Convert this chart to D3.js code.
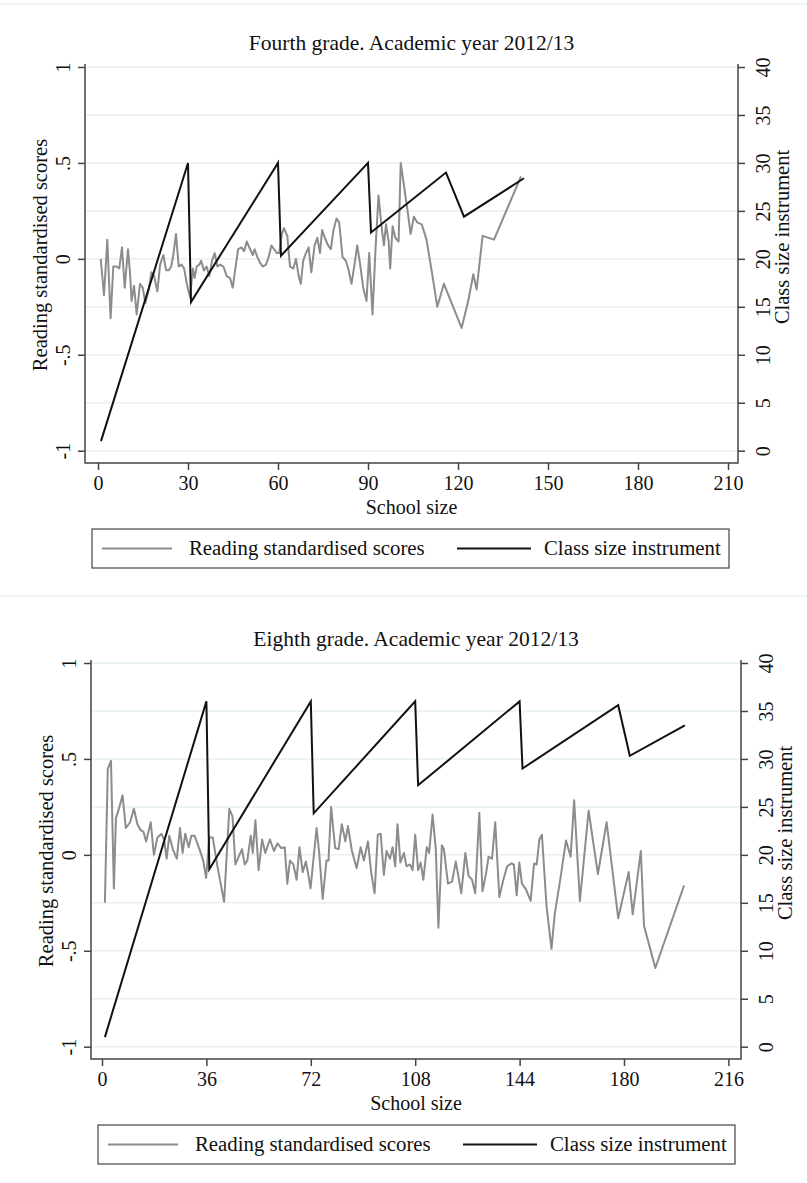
<!DOCTYPE html>
<html>
<head>
<meta charset="utf-8">
<script src="https://cdn.jsdelivr.net/npm/d3@7"></script>
<style>
  body { margin: 0; background: #fff; }
  svg, text { font-family: "Liberation Serif", "Times New Roman", Times, serif; fill: #111; }
</style>
</head>
<body>
<svg id="chart"></svg>
<script>
// fourth grade (2012/13)
const size4 = [0.9,2,3.1,4.2,5.1,6.2,7.1,8,8.9,10,10.7,11.2,12,12.9,14,14.9,15.8,16.9,17.8,18.7,19.8,20.7,21.8,22.7,23.6,24.4,25.1,26,26.9,27.8,28.7,29.6,30.7,31.6,32.2,32.9,33.8,34.4,35.3,36.2,37.1,38,38.9,39.8,40.7,41.8,42.9,44,44.9,45.8,46.7,47.8,48.7,49.6,50.7,51.6,52.2,53.1,54,54.9,56,56.9,57.8,58.7,59.6,60.4,61.3,62,63.1,64,65.1,66,66.9,67.6,68.4,69.3,70.2,71.1,72.2,73.1,74,74.7,75.6,76.7,77.6,78.5,79.5,80.4,81.5,82.6,83.4,84.5,85.6,86.4,87.3,88.4,89.5,90.4,91.5,92.5,93.5,94.5,95.3,96,96.9,97.4,98.2,99.1,100.2,100.9,102,103.1,104.2,105.3,106.4,107.9,109.5,111.2,113.1,115.3,121.2,123.4,125.1,126.2,128.2,132,141];
const read4 = [0,-0.19,0.10,-0.31,-0.04,-0.04,-0.05,0.06,-0.15,0.05,-0.08,-0.22,-0.14,-0.29,-0.13,-0.15,-0.23,-0.16,-0.07,-0.09,-0.17,-0.03,0.02,-0.06,-0.06,-0.04,0.02,0.13,-0.04,-0.03,-0.05,-0.13,-0.20,-0.05,-0.10,-0.04,-0.03,-0.01,-0.06,-0.04,-0.09,-0.01,0.03,-0.04,-0.03,-0.04,-0.09,-0.10,-0.15,-0.05,0.05,0.06,0.04,0.09,0.05,0.02,0.05,0.01,-0.02,-0.04,-0.03,0.01,0.07,0.05,0.03,0.03,0.13,0.16,0.12,-0.04,-0.05,0,-0.09,-0.13,-0.01,0.03,0.06,-0.07,0.07,0.11,0.03,0.15,0.11,0.07,0.05,0.15,0.21,0.19,0.01,-0.01,-0.05,-0.13,-0.02,0.07,-0.02,-0.15,-0.22,0.03,-0.29,0.05,0.33,0.17,0.07,0.18,0.09,-0.05,0.17,0.11,0.09,0.50,0.38,0.26,0.13,0.22,0.19,0.18,0.10,-0.06,-0.25,-0.13,-0.36,-0.22,-0.08,-0.16,0.12,0.10,0.43];
const classSize4 = [1,30,31,60,61,90,91,116,122,142];
const classVal4 = [1,30,15.5,30,20.33,30,22.75,29,24.4,28.4];
const xTicks4 = [0,30,60,90,120,150,180,210];

// eighth grade (2012/13)
const size8 = [1,2,3.1,4.1,4.8,6,7.1,8.2,9.7,11,12.2,13.3,14.3,15.2,16.8,17.9,19.1,20.5,21.4,22.3,23.2,24.4,25.8,26.9,27.8,28.7,29.9,30.8,31.9,33.6,34.9,35.9,37,38.2,39.8,42.1,43.9,45,46,47.1,48.3,49.2,50.1,51.3,52,52.9,54,55.2,56.3,57.9,59.3,60.5,61.8,63,63.9,64.8,66,67.1,68.1,69.2,70.3,71,71.9,74,74.9,76.1,77.4,78.1,79,80.4,81.6,82.7,83.9,84.8,86.2,87.8,89.2,90.3,91.7,92.8,94,95.1,96.1,97.2,98.1,99.3,100.2,101.1,101.9,102.9,104.1,105,106.2,107.1,108,109,109.9,110.8,112,112.8,114,115.1,116,117.2,117.9,119.3,120.7,122,123.9,125.3,126.4,127.6,128.7,130.1,131.2,132.4,133.3,134.5,135.6,137,138.4,139.7,141.1,142,143,143.9,144.8,146.2,147.8,149,149.9,150.8,151.7,153.3,155,156.1,158,160,161.6,162.8,164.8,167.8,171,174,178,181.6,183,185.8,186.9,190.8,200.7];
const read8 = [-0.25,0.45,0.49,-0.175,0.19,0.25,0.31,0.14,0.17,0.24,0.16,0.13,0.12,0.07,0.17,0,0.09,0.11,0.08,-0.02,0.10,0.03,-0.02,0.14,0.01,0.11,0.04,0.10,0.10,0.03,-0.03,-0.12,0.09,0.09,-0.06,-0.245,0.24,0.20,-0.05,-0.01,0.03,-0.05,-0.03,0.10,0.01,0.18,-0.08,0.08,0.01,0.08,0.02,0.06,0.035,0.04,-0.15,-0.03,-0.05,-0.13,0.04,-0.09,-0.035,-0.09,-0.175,0.14,0.01,-0.23,-0.03,-0.03,0.25,0.035,0.03,0.16,0.07,0.15,0.02,-0.07,0.04,-0.03,0.07,-0.09,-0.20,0.105,0.11,-0.105,0.02,-0.02,0.04,-0.06,0.16,-0.04,0.01,-0.06,-0.05,-0.08,0.105,-0.08,-0.04,-0.13,0.04,0.01,0.21,0.03,-0.38,0.05,0.03,-0.15,-0.14,-0.035,-0.20,0.01,-0.11,-0.13,-0.20,0.22,-0.19,-0.10,-0.01,-0.02,0.17,-0.22,-0.13,-0.06,-0.045,-0.05,-0.21,-0.04,-0.15,-0.18,-0.24,-0.045,-0.05,0.08,0.105,-0.27,-0.49,-0.31,-0.13,0.075,-0.01,0.285,-0.24,0.23,-0.10,0.17,-0.33,-0.09,-0.31,0.02,-0.37,-0.59,-0.16];
const classSize8 = [1,36,37,72,73,108,109,144,145,178,182,201];
const classVal8 = [1,36,18.5,36,24.33,36,27.25,36,29,35.6,30.33,33.5];
const xTicks8 = [0,36,72,108,144,180,216];

const leftTicks = [-1,-0.5,0,0.5,1];
const rightTicks = [0,5,10,15,20,25,30,35,40];

const width = 807, height = 1183;
const serif = '"Liberation Serif", "Times New Roman", Times, serif';
const svg = d3.select('#chart').attr('width', width).attr('height', height);

svg.append('rect').attr('width', width).attr('height', height).attr('fill', '#fff');

// faint graph-region borders
[4, 596].forEach(y => {
  svg.append('line').attr('x1', 0).attr('x2', width).attr('y1', y).attr('y2', y)
     .attr('stroke', '#edf1f1').attr('stroke-width', 1.5);
});

const fmtLeft = v => String(v).replace('0.', '.');

function panel(o) {
  const g = svg.append('g').attr('transform', `translate(0,${o.top})`);

  const x = d3.scaleLinear().domain([0, o.xMax]).range([o.x0, o.x1]);
  const yL = d3.scaleLinear().domain([-1, 1]).range([450.7, 67]);
  const yR = d3.scaleLinear().domain([0, 40]).range([450.7, 67]);
  const plotTop = 64, plotBot = 463;

  // gridlines
  g.append('g').selectAll('line').data(rightTicks).enter().append('line')
    .attr('x1', o.left).attr('x2', o.right)
    .attr('y1', d => yR(d)).attr('y2', d => yR(d))
    .attr('stroke', '#e7f0f1').attr('stroke-width', 1.5);

  // frame lines
  const axisCol = '#444';
  g.append('path')
    .attr('d', `M${o.left},${plotTop}V${plotBot}H${o.right}V${plotTop}`)
    .attr('fill', 'none').attr('stroke', axisCol).attr('stroke-width', 1.5);

  // x axis
  const xa = g.append('g').attr('transform', `translate(0,${plotBot})`)
    .call(d3.axisBottom(x).tickValues(o.xTicks).tickSize(7).tickPadding(6).tickFormat(d3.format('d')));
  xa.attr('font-family', serif);
  xa.select('.domain').remove();
  xa.selectAll('line').attr('stroke', axisCol).attr('stroke-width', 1.5);
  xa.selectAll('text').attr('font-size', 20).attr('fill', '#111');

  // left axis
  const la = g.append('g').attr('transform', `translate(${o.left},0)`)
    .call(d3.axisLeft(yL).tickValues(leftTicks).tickSize(7).tickFormat(fmtLeft));
  la.attr('font-family', serif);
  la.select('.domain').remove();
  la.selectAll('line').attr('stroke', axisCol).attr('stroke-width', 1.5);
  la.selectAll('text').attr('font-size', 20).attr('fill', '#111')
    .attr('transform', 'rotate(-90)').attr('x', 0).attr('y', -15).attr('dy', null)
    .attr('text-anchor', 'middle');

  // right axis
  const ra = g.append('g').attr('transform', `translate(${o.right},0)`)
    .call(d3.axisRight(yR).tickValues(rightTicks).tickSize(7).tickFormat(d3.format('d')));
  ra.attr('font-family', serif);
  ra.select('.domain').remove();
  ra.selectAll('line').attr('stroke', axisCol).attr('stroke-width', 1.5);
  ra.selectAll('text').attr('font-size', 20).attr('fill', '#111')
    .attr('transform', 'rotate(-90)').attr('x', 0).attr('y', 32).attr('dy', null)
    .attr('text-anchor', 'middle');

  // series
  const lineR = d3.line().x(d => x(d[0])).y(d => yL(d[1]));
  const lineC = d3.line().x(d => x(d[0])).y(d => yR(d[1]));

  g.append('path').datum(o.sizes.map((s, i) => [s, o.reads[i]]))
    .attr('d', lineR).attr('fill', 'none')
    .attr('stroke', '#8c8c8c').attr('stroke-width', 2).attr('stroke-linejoin', 'round');

  g.append('path').datum(o.cSizes.map((s, i) => [s, o.cVals[i]]))
    .attr('d', lineC).attr('fill', 'none')
    .attr('stroke', '#111').attr('stroke-width', 2);

  // titles
  const mid = (o.left + o.right) / 2;
  g.append('text').attr('x', mid).attr('y', 50).attr('text-anchor', 'middle')
    .attr('font-size', 21.5).text(o.title);
  g.append('text').attr('x', mid).attr('y', 514).attr('text-anchor', 'middle')
    .attr('font-size', 20).text('School size');
  g.append('text').attr('transform', `translate(${o.left - 38},255) rotate(-90)`)
    .attr('text-anchor', 'middle').attr('font-size', 20.5).text('Reading standardised scores');
  g.append('text').attr('transform', `translate(${o.right + 51},237) rotate(-90)`)
    .attr('text-anchor', 'middle').attr('font-size', 20.5).text('Class size instrument');

  // legend
  const lg = g.append('g').attr('transform', `translate(${o.left + 7},529)`);
  lg.append('rect').attr('width', 637).attr('height', 39)
    .attr('fill', '#fff').attr('stroke', '#444').attr('stroke-width', 1.2);
  lg.append('line').attr('x1', 10).attr('x2', 80).attr('y1', 19.5).attr('y2', 19.5)
    .attr('stroke', '#8c8c8c').attr('stroke-width', 2);
  lg.append('text').attr('x', 97).attr('y', 26).attr('font-size', 20.8).text('Reading standardised scores');
  lg.append('line').attr('x1', 365).attr('x2', 439).attr('y1', 19.5).attr('y2', 19.5)
    .attr('stroke', '#111').attr('stroke-width', 2);
  lg.append('text').attr('x', 452).attr('y', 26).attr('font-size', 20.8).text('Class size instrument');
}

panel({
  top: 0, title: 'Fourth grade. Academic year 2012/13',
  xMax: 210, x0: 98, x1: 728, left: 85, right: 738, xTicks: xTicks4,
  sizes: size4, reads: read4, cSizes: classSize4, cVals: classVal4
});

panel({
  top: 596, title: 'Eighth grade. Academic year 2012/13',
  xMax: 216, x0: 102, x1: 728.4, left: 91, right: 741, xTicks: xTicks8,
  sizes: size8, reads: read8, cSizes: classSize8, cVals: classVal8
});
</script>
</body>
</html>
